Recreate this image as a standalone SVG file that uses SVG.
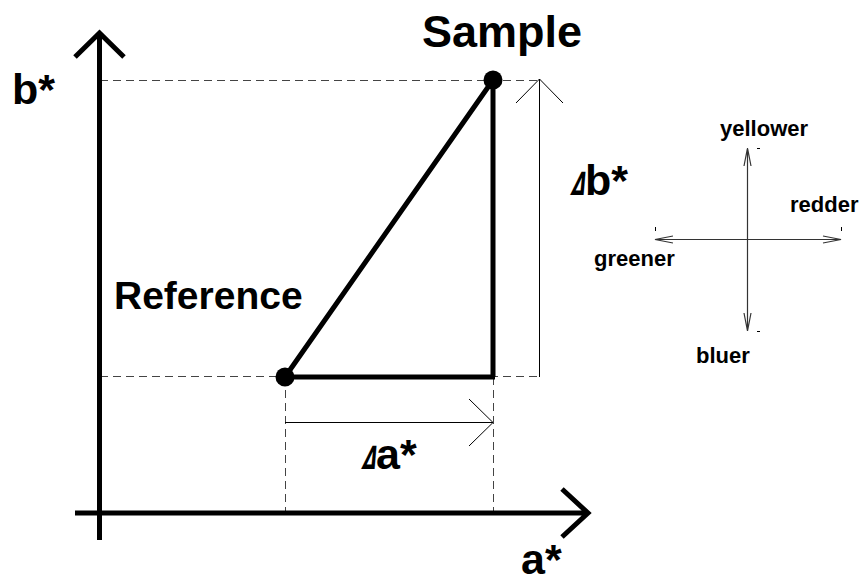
<svg xmlns="http://www.w3.org/2000/svg" width="860" height="583" viewBox="0 0 860 583">
<style>
.bg{fill:#fff}
.axis{stroke:#000;stroke-width:5;fill:none}
.thick{stroke:#000;stroke-width:5;fill:none}
.dash{stroke:#444;stroke-width:1;stroke-dasharray:8 5;fill:none}
.thin{stroke:#000;stroke-width:1;fill:none}
.comp{stroke:#333;stroke-width:1.2;fill:none}
.tick{stroke:#000;stroke-width:1;fill:none}
text{font-family:"Liberation Sans",Arial,sans-serif;font-weight:bold;fill:#000}
.big{font-size:43px}
.small{font-size:22px}
.delta{font-family:"DejaVu Sans","Liberation Sans",sans-serif;font-weight:bold;font-size:32px}
</style>
<rect class="bg" x="0" y="0" width="860" height="583"/>
<g id="connectors">
  <path class="dash" d="M100 80.5H540M100 376.5H540M285.5 377V513M493.5 377V513"/>
  <path class="axis" d="M99.5 33V540M75 57L99.5 33L124 57"/>
  <path class="axis" d="M75 513H588M562 489L588 513L562 537"/>
  <path class="thick" d="M285 377L493 80M493 80V377M285 377H495"/>
  <path class="thin" d="M539.5 79V377M516 103L539.5 79L563 103"/>
  <path class="thin" d="M285 422.5H493M469 399L493 422.5L469 446"/>
</g>
<g id="reference">
  <circle cx="285" cy="377" r="9.5" fill="#000"/>
  <text class="big" x="114" y="309" style="font-size:39px">Reference</text>
</g>
<g id="sample">
  <circle cx="493" cy="80" r="9.5" fill="#000"/>
  <text class="big" x="422" y="47" style="font-size:45px">Sample</text>
</g>
<g id="labels">
  <text class="big" x="12" y="104">b*</text>
  <text class="big" x="521" y="574">a*</text>
  <g id="delta-b">
    <text class="delta" transform="translate(570 195) skewX(-16) scale(0.55 1)">Δ</text>
    <text class="big" x="585" y="195">b*</text>
  </g>
  <g id="delta-a">
    <text class="delta" transform="translate(361 469) skewX(-16) scale(0.55 1)">Δ</text>
    <text class="big" x="376" y="469">a*</text>
  </g>
</g>
<g id="compass">
  <path class="comp" d="M655 239.5H841M673 236L655 239.5L673 243M823 236L841 239.5L823 243"/>
  <path class="comp" d="M747.5 148V331M744 166L747.5 148L751 166M744 313L747.5 331L751 313"/>
  <path class="tick" d="M655.5 227V231M841.5 227V231M757 148.5H760M757 331.5H760"/>
  <text class="small" x="720" y="136">yellower</text>
  <text class="small" x="790" y="212">redder</text>
  <text class="small" x="594" y="266">greener</text>
  <text class="small" x="696" y="363">bluer</text>
</g>
</svg>
